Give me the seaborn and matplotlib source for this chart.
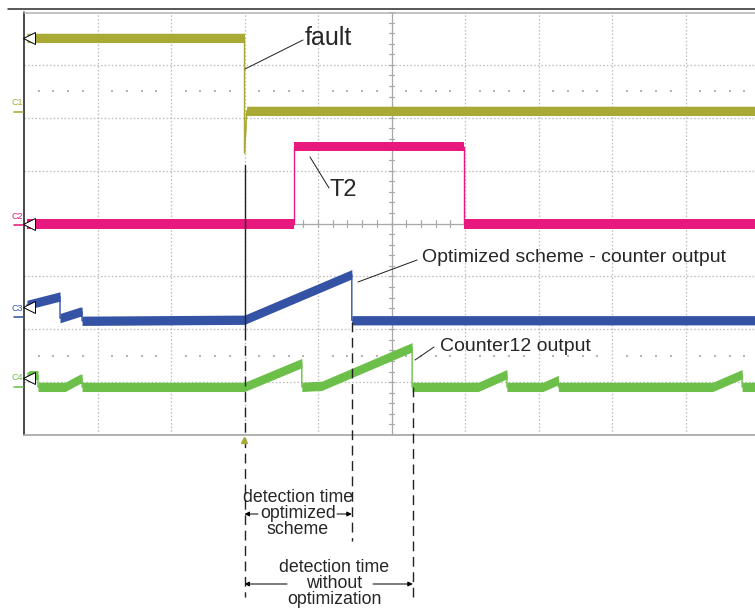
import matplotlib
matplotlib.use("Agg")
import matplotlib.pyplot as plt
from matplotlib.lines import Line2D
import seaborn as sns
import numpy as np
import pandas as pd

# ---------------- data (time and amplitude in screen divisions) ----------------
c1_t = [0.04, 3.00, 3.00, 3.03, 10.0]
c1_v = [7.51, 7.51, 5.33, 6.13, 6.13]

c2_t = [0.04, 3.67, 3.67, 5.99, 5.99, 10.0]
c2_v = [3.99, 3.99, 5.45, 5.45, 3.99, 3.99]

c3_t = [0.04, 0.49, 0.49, 0.76, 0.79, 0.79, 3.00, 4.46, 4.46, 10.0]
c3_v = [2.46, 2.62, 2.21, 2.33, 2.33, 2.16, 2.18, 3.04, 2.17, 2.17]

c4_t = [0.04, 0.08, 0.19, 0.19, 0.56, 0.76, 0.79, 0.79, 3.00, 3.78, 3.78,
        4.05, 5.28, 5.28, 6.18, 6.57, 6.57, 7.06, 7.27, 7.27, 9.37, 9.77, 9.77, 10.0]
c4_v = [1.10, 1.13, 1.13, 0.91, 0.91, 1.06, 1.06, 0.91, 0.91, 1.36, 0.91,
        0.93, 1.66, 0.91, 0.91, 1.15, 0.91, 0.91, 1.04, 0.91, 0.91, 1.15, 0.91, 0.91]

channel_names = ["C1", "C2", "C3", "C4"]
channel_colors = ["#A9A935", "#E8197E", "#3553A5", "#6CC04A"]
channel_offsets = [6.13, 3.99, 2.25, 0.93]
marker_levels = [7.51, 3.99, 2.43, 1.08]

t_fault = 3.00
t_opt = 4.46
t_c12 = 5.29

# ---------------- figure ----------------
sns.set_style("white")
plt.rcParams['font.family'] = ['Liberation Sans', 'DejaVu Sans']

W, H = 755, 610
fig = plt.figure(figsize=(W / 100, H / 100), dpi=100)
L, T, R, B = 24, 12, 759, 435
ax = fig.add_axes([L / W, 1 - B / H, (R - L) / W, (B - T) / H])
ax.set_xlim(0, 10)
ax.set_ylim(0, 8)
ax.axis("off")

def X(px):
    return (px - L) / ((R - L) / 10)

def Y(py):
    return (B - py) / ((B - T) / 8)

PX = 0.72  # points per pixel

# grid
grid_c = "#BDBDBD"
for gx in range(1, 10):
    if gx == 5:
        continue
    ax.plot([gx, gx], [0, 8], color=grid_c, lw=1.3 * PX, ls=(0, (1.2, 1.6)), zorder=0)
for gy in range(1, 8):
    if gy == 4:
        continue
    ax.plot([0, 10], [gy, gy], color=grid_c, lw=1.3 * PX, ls=(0, (1.2, 1.6)), zorder=0)
# center axes with minor ticks
ax.plot([5, 5], [0, 8], color="#A8A8A8", lw=1.3 * PX, zorder=0)
ax.plot([0, 10], [4, 4], color="#A8A8A8", lw=1.3 * PX, zorder=0)
tx = np.arange(0, 10.01, 0.2)
ty = np.arange(0, 8.01, 0.2)
for v in tx:
    ax.plot([v, v], [4 - 0.06, 4 + 0.06], color="#A8A8A8", lw=1.2 * PX, zorder=0)
for v in ty:
    ax.plot([5 - 0.04, 5 + 0.04], [v, v], color="#A8A8A8", lw=1.2 * PX, zorder=0)
# sparse dot rows
dots = [v for v in tx if abs(v - round(v)) > 0.05]
for row in (6.5, 1.5):
    ax.scatter(dots, [row] * len(dots), s=1.2, color="#B5B5B5", marker="s", linewidths=0, zorder=0)

# frame lines
ax.plot([0, 0], [0, 8], color="#222222", lw=1.6 * PX, zorder=1, clip_on=False)
ax.plot([0, 10], [0, 0], color="#AAAAAA", lw=1.8 * PX, zorder=1, clip_on=False)
ax.plot([0, 10], [Y(13), Y(13)], color="#B0B0B0", lw=1.5 * PX, zorder=1, clip_on=False)
fig.add_artist(Line2D([8 / W, 1], [1 - 9 / H, 1 - 9 / H], color="#333333", lw=1.6 * PX))

# traces
half = 0.088
series = [(c1_t, c1_v), (c2_t, c2_v), (c3_t, c3_v), (c4_t, c4_v)]
for (t, v), name, col in zip(series, channel_names, channel_colors):
    t = np.array(t); v = np.array(v)
    ax.fill_between(t, v - half, v + half, color=col, linewidth=0, zorder=3)
    df = pd.DataFrame({"t": t, "v": v})
    sns.lineplot(data=df, x="t", y="v", sort=False, estimator=None, color=col,
                 lw=1.4 * PX, ax=ax, zorder=3)
ax.set_xlim(0, 10)
ax.set_ylim(0, 8)
ax.axis("off")

# channel labels at left
for name, col, off, ml in zip(channel_names, channel_colors, channel_offsets, marker_levels):
    ax.text(X(17.5), off + 0.15, name, color=col, fontsize=6.5, ha="center", va="center",
            clip_on=False)
    ax.plot([X(14), X(23)], [off - 0.02, off - 0.02], color=col, lw=1.6 * PX, clip_on=False)
    ax.plot([X(28.5)], [ml], marker="<", ms=8, mfc="white", mec="black", mew=0.7,
            clip_on=False, zorder=5)

# fault cursor line
ax.plot([t_fault, t_fault], [Y(165), Y(330)], color="#222222", lw=1.4 * PX, zorder=4)
dash = (0, (7, 4))
ax.plot([t_fault, t_fault], [Y(330), Y(597)], color="#222222", lw=1.4 * PX, ls=dash,
        zorder=4, clip_on=False)
ax.plot([t_opt, t_opt], [Y(322), Y(541)], color="#222222", lw=1.4 * PX, ls=dash,
        zorder=4, clip_on=False)
ax.plot([t_c12, t_c12], [Y(387), Y(597)], color="#222222", lw=1.4 * PX, ls=dash,
        zorder=4, clip_on=False)
ax.plot([t_fault - 0.01], [Y(440)], marker="^", ms=5, color="#A9A935", clip_on=False, zorder=5)

# annotations
lead = dict(color="#222222", lw=1.0 * PX)
ax.plot([X(245), X(303)], [Y(69), Y(40)], **lead, zorder=5)
ax.text(X(305), Y(45), "fault", fontsize=18, ha="left", va="baseline")

ax.plot([X(310), X(329)], [Y(157), Y(188)], **lead, zorder=5)
ax.text(X(329), Y(196), "T2", fontsize=17, ha="left", va="baseline")

ax.plot([X(358), X(417)], [Y(282), Y(260)], **lead, zorder=5)
ax.text(X(422), Y(262), "Optimized scheme - counter output", fontsize=14, ha="left",
        va="baseline")

ax.plot([X(415), X(434)], [Y(360), Y(347)], **lead, zorder=5)
ax.text(X(440), Y(351), "Counter12 output", fontsize=14, ha="left", va="baseline")

bt = dict(fontsize=12.8, ha="center", va="top", multialignment="center",
          linespacing=0.92, clip_on=False)
ax.text(X(298), Y(489), "detection time\noptimized\nscheme", **bt)
arr = dict(arrowstyle="-|>", lw=1.0 * PX, color="black", mutation_scale=7,
           shrinkA=0, shrinkB=0)
ax.annotate("", xy=(t_fault, Y(514)), xytext=(X(258), Y(514)), arrowprops=arr,
            annotation_clip=False)
ax.annotate("", xy=(t_opt, Y(514)), xytext=(X(337), Y(514)), arrowprops=arr,
            annotation_clip=False)

ax.text(X(334), Y(559), "detection time\nwithout\noptimization", **bt)
ax.annotate("", xy=(t_fault, Y(584)), xytext=(X(287), Y(584)), arrowprops=arr,
            annotation_clip=False)
ax.annotate("", xy=(t_c12, Y(584)), xytext=(X(373), Y(584)), arrowprops=arr,
            annotation_clip=False)

fig.savefig("out.png", dpi=100, facecolor="white")
